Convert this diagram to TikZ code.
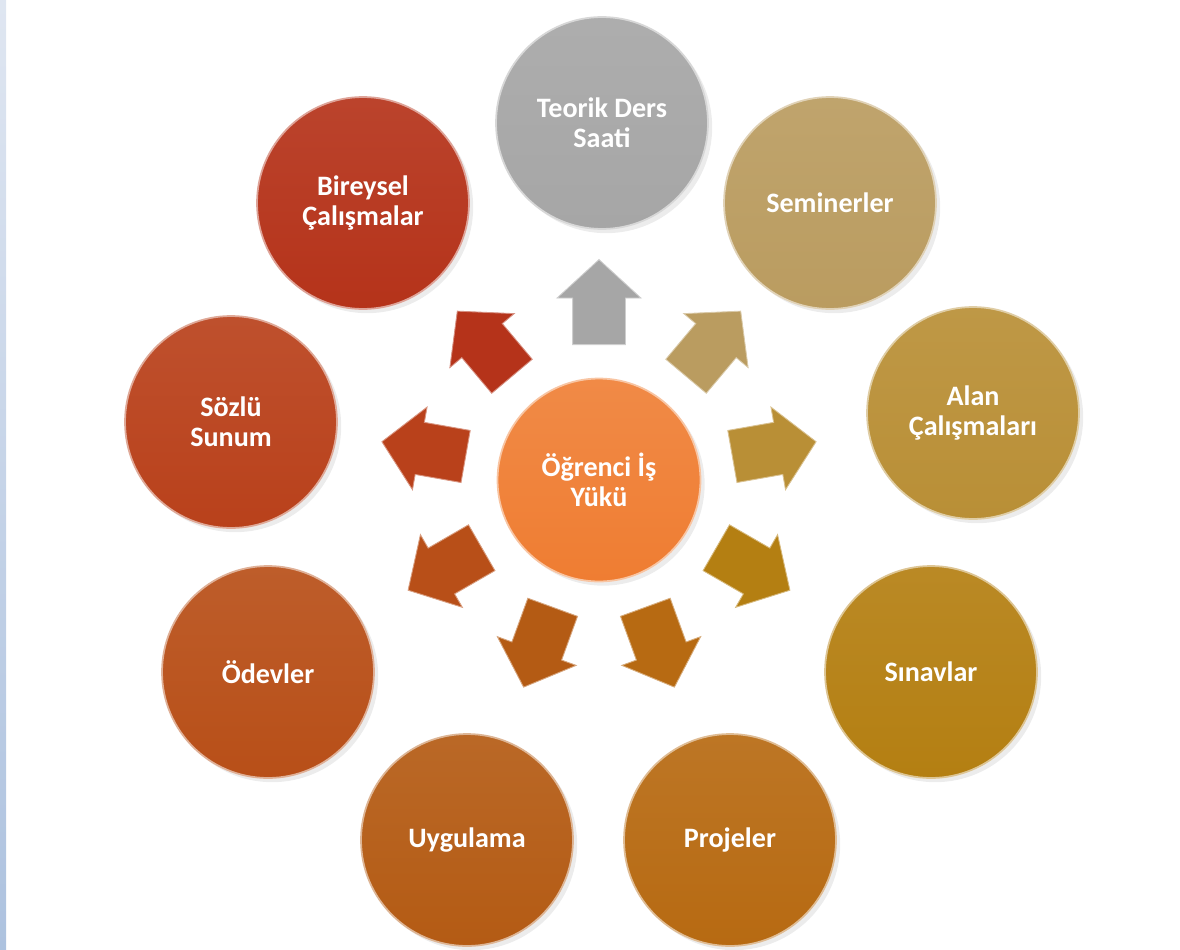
\documentclass[tikz,border=0pt]{standalone}
\usepackage{fontspec}
\setmainfont{Carlito}
\usepackage{xcolor}
\usetikzlibrary{shapes.arrows,shadows,calc}

\definecolor{hubcol}{HTML}{EF7D32}
\definecolor{teocol}{HTML}{A6A6A6}
\definecolor{semcol}{HTML}{BA9C60}
\definecolor{alancol}{HTML}{B98F36}
\definecolor{sinavcol}{HTML}{B47F12}
\definecolor{projcol}{HTML}{B76A12}
\definecolor{uygcol}{HTML}{B45B14}
\definecolor{odevcol}{HTML}{B84F18}
\definecolor{sozcol}{HTML}{B9411B}
\definecolor{bircol}{HTML}{B5331A}
\definecolor{striptop}{HTML}{DFE6F1}
\definecolor{stripbot}{HTML}{ADC2DF}

\begin{document}
\begin{tikzpicture}[
  x=0.02cm, y=0.02cm,
  hub/.style   = {circle, minimum size=4.06cm, inner sep=0pt, align=center,
                  top color=hubcol!90!white, bottom color=hubcol,
                  draw=hubcol!45!white, line width=1pt,
                  drop shadow={opacity=0.15},
                  text=white, font=\fontsize{16}{17}\selectfont\bfseries},
  topic/.style = {circle, minimum size=4.24cm, inner sep=0pt, align=center,
                  top color=#1!92!white, bottom color=#1,
                  draw=#1!45!white, line width=1pt,
                  drop shadow={opacity=0.15},
                  text=white, font=\fontsize{16}{17}\selectfont\bfseries},
  spoke/.style = {single arrow, single arrow tip angle=95,
                  single arrow head extend=0.31cm,
                  inner xsep=0pt, inner ysep=0.52cm, minimum height=1.7cm,
                  fill=#1, draw=#1!55!white, line width=0.5pt, anchor=tail}
]
\useasboundingbox (0,-950) rectangle (1180,0);
\shade[top color=striptop, bottom color=stripbot] (0,-950) rectangle (6,0);

%%% ---- HUB ----
\node[hub]            (hub)    at (599,-480) {Öğrenci İş\\Yükü};

%%% ---- TOPICS ----
\node[topic=teocol]   (teorik) at (602,-123) {Teorik Ders\\Saati};
\node[topic=semcol]   (semin)  at (830,-203) {Seminerler};
\node[topic=alancol]  (alan)   at (973,-413) {Alan\\Çalışmaları};
\node[topic=sinavcol] (sinav)  at (931,-672) {Sınavlar};
\node[topic=projcol]  (proje)  at (730,-840) {Projeler};
\node[topic=uygcol]   (uygul)  at (467,-840) {Uygulama};
\node[topic=odevcol]  (odev)   at (268,-672) {Ödevler};
\node[topic=sozcol]   (sozlu)  at (231,-422) {Sözlü\\Sunum};
\node[topic=bircol]   (birey)  at (363,-203) {Bireysel\\Çalışmalar};

%%% ---- SPOKES ----
\node[spoke=teocol,   rotate=90]   (to-teorik) at ($(hub)+(90:135)$)   {};
\node[spoke=semcol,   rotate=50]   (to-semin)  at ($(hub)+(50:135)$)   {};
\node[spoke=alancol,  rotate=10]   (to-alan)   at ($(hub)+(10:135)$)   {};
\node[spoke=sinavcol, rotate=-30]  (to-sinav)  at ($(hub)+(-30:135)$)  {};
\node[spoke=projcol,  rotate=-70]  (to-proje)  at ($(hub)+(-70:135)$)  {};
\node[spoke=uygcol,   rotate=-110] (to-uygul)  at ($(hub)+(-110:135)$) {};
\node[spoke=odevcol,  rotate=-150] (to-odev)   at ($(hub)+(-150:135)$) {};
\node[spoke=sozcol,   rotate=170]  (to-sozlu)  at ($(hub)+(170:135)$)  {};
\node[spoke=bircol,   rotate=130]  (to-birey)  at ($(hub)+(130:135)$)  {};
\end{tikzpicture}
\end{document}
